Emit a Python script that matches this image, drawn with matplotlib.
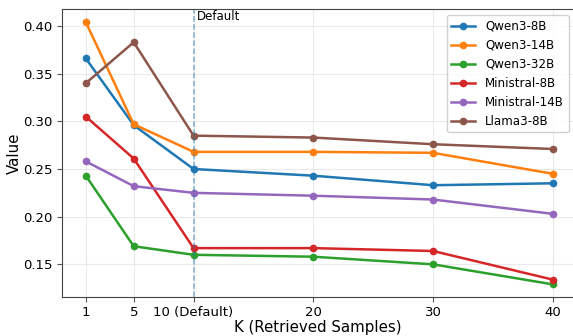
import matplotlib
matplotlib.use("Agg")
import matplotlib.pyplot as plt

# K values and tick labels
k_values = [1, 5, 10, 20, 30, 40]
tick_labels = ["1", "5", "10 (Default)", "20", "30", "40"]

# Scores per model
qwen3_8b = [0.366, 0.296, 0.250, 0.243, 0.233, 0.235]
qwen3_14b = [0.404, 0.297, 0.268, 0.268, 0.267, 0.245]
qwen3_32b = [0.243, 0.169, 0.160, 0.158, 0.150, 0.129]
ministral_8b = [0.305, 0.261, 0.167, 0.167, 0.164, 0.134]
ministral_14b = [0.258, 0.232, 0.225, 0.222, 0.218, 0.203]
llama3_8b = [0.340, 0.383, 0.285, 0.283, 0.276, 0.271]

series = [
    ("Qwen3-8B", qwen3_8b, "#1f77b4"),
    ("Qwen3-14B", qwen3_14b, "#ff7f0e"),
    ("Qwen3-32B", qwen3_32b, "#2ca02c"),
    ("Ministral-8B", ministral_8b, "#d62728"),
    ("Ministral-14B", ministral_14b, "#9467bd"),
    ("Llama3-8B", llama3_8b, "#8c564b"),
]

fig, ax = plt.subplots(figsize=(5.73, 3.36), dpi=100)
fig.subplots_adjust(left=0.108, right=1.0, top=0.973, bottom=0.116)

for name, vals, color in series:
    ax.plot(k_values, vals, marker="o", markersize=4.5, linewidth=1.8, color=color, label=name)

# Default K marker
ax.axvline(10, color="#1f77b4", linestyle="--", linewidth=1.1, alpha=0.55)
ax.text(10.3, 0.4168, "Default", fontsize=8.5, va="top", ha="left")

ax.set_xlim(-1.0, 41.7)
ax.set_ylim(0.1157, 0.4178)
ax.set_xticks(k_values)
ax.set_xticklabels(tick_labels)
ax.set_yticks([0.15, 0.20, 0.25, 0.30, 0.35, 0.40])
ax.tick_params(axis="both", labelsize=9.5, color="#555555", pad=3)
ax.set_xlabel("K (Retrieved Samples)", fontsize=10.8, labelpad=1)
ax.set_ylabel("Value", fontsize=10.8, labelpad=1)

ax.grid(True, color="#dddddd", alpha=0.6, linewidth=0.8)
ax.set_axisbelow(True)
ax.spines["right"].set_visible(False)
for s in ["left", "bottom", "top"]:
    ax.spines[s].set_color("#444444")

ax.legend(loc="upper right", fontsize=8.6, framealpha=0.9, borderaxespad=0.5,
          bbox_to_anchor=(1.003, 1.0))

fig.savefig("out.png", dpi=100)
